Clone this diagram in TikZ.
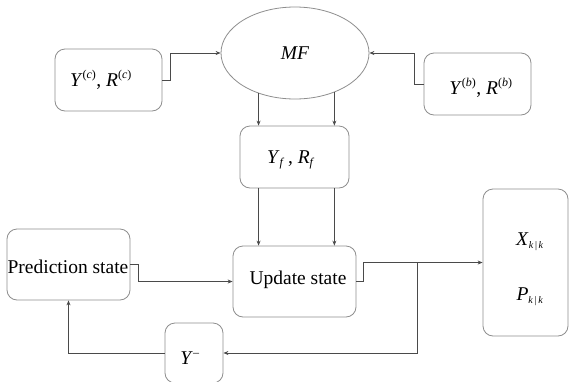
\documentclass[tikz,border=0pt]{standalone}
\usepackage{fontspec}
\setmainfont{Liberation Serif}
\usetikzlibrary{arrows.meta,shapes.geometric}
\definecolor{boxline}{HTML}{8E8E8E}
\definecolor{conn}{HTML}{4A4A4A}
\tikzset{
  box/.style={draw=boxline, line width=0.8pt, rounded corners=10pt, inner sep=0pt, align=center},
  oval/.style={draw=boxline, line width=0.8pt, ellipse, inner sep=0pt},
  lbl/.style={inner sep=0pt, font=\fontsize{19.5}{22}\selectfont},
  arr/.style={draw=conn, line width=0.8pt, -{Stealth[length=5pt,width=4pt]}},
  ln/.style={draw=conn, line width=0.8pt},
}
\newcommand{\sps}[1]{\textsuperscript{\fontsize{12}{12}\selectfont(\textit{#1})}}
\begin{document}
\begin{tikzpicture}[x=1pt,y=-1pt]
\useasboundingbox[fill=white] (0,0) rectangle (571,381);
% boxes
\node[box, minimum width=107pt, minimum height=62pt] (yc) at (108.5,80) {};
\node[oval, minimum width=148pt, minimum height=92pt] (mf) at (295,53) {};
\node[box, minimum width=107pt, minimum height=62pt] (yb) at (477.5,84) {};
\node[box, minimum width=109pt, minimum height=62pt] (yf) at (294.5,157) {};
\node[box, minimum width=123pt, minimum height=71pt] (pred) at (68.5,264.5) {};
\node[box, minimum width=123pt, minimum height=71pt] (up) at (294.5,281.5) {};
\node[box, minimum width=85pt, minimum height=147pt] (out) at (525.5,262.5) {};
\node[box, minimum width=58pt, minimum height=60pt] (ym) at (194,353) {};
% texts
\node[lbl] (tyc) at (101,80) {\textit{Y}\sps{c}, \textit{R}\sps{c}};
\node[lbl] (tmf) at (295,53) {\textit{MF}};
\node[lbl] (tyb) at (481,88) {\textit{Y}\sps{b}, \textit{R}\sps{b}};
\node[lbl] (tyf) at (291,160) {\textit{Y}\textsubscript{\fontsize{12}{12}\selectfont\textit{f}}\,, \textit{R}\textsubscript{\fontsize{12}{12}\selectfont\textit{f}}};
\node[lbl] (tpred) at (68,267) {Prediction state};
\node[lbl] (tup) at (298,280) {Update state};
\node[lbl] (tx) at (530,242) {\textit{X}\textsubscript{\fontsize{10}{10}\selectfont\textit{k}\,|\,\textit{k}}};
\node[lbl] (tp) at (530,297) {\textit{P}\textsubscript{\fontsize{10}{10}\selectfont\textit{k}\,|\,\textit{k}}};
\node[lbl] (tym) at (190,358) {\textit{Y}\textsuperscript{\fontsize{12}{12}\selectfont\textendash}};
% connectors
\coordinate (j) at (417,262.5);
\draw[arr] (yc.east) -- ++(8,0) |- (mf.west);
\draw[arr] (yb.west) -- ++(-9,0) |- (mf.east);
\draw[arr] (mf.228) -- (mf.228 |- yf.north);
\draw[arr] (mf.315) -- (mf.315 |- yf.north);
\draw[arr] (yf.south -| mf.228) -- (mf.228 |- up.north);
\draw[arr] (yf.south -| mf.315) -- (mf.315 |- up.north);
\draw[arr] (pred.east) -- ++(8,0) |- (up.west);
\draw[arr] (up.east) -- ++(7,0) |- (out.west);
\draw[arr] (j) |- (ym.east);
\draw[arr] (ym.west) -| (pred.south);
\end{tikzpicture}
\end{document}
